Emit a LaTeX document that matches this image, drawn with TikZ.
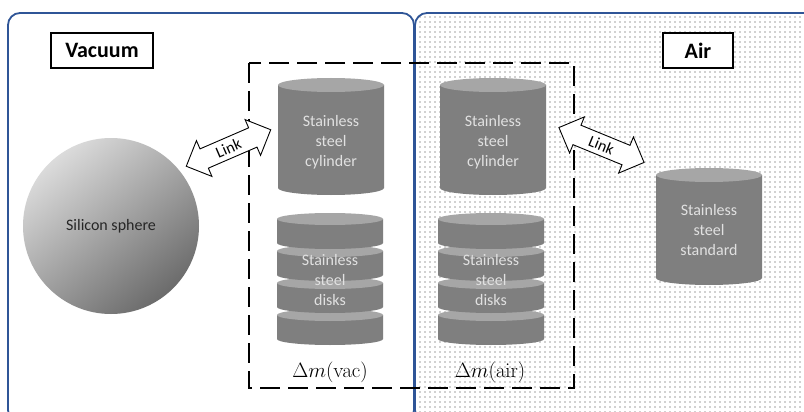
\documentclass[tikz,border=0pt]{standalone}
\usepackage[no-math]{fontspec}
\setmainfont{Carlito}
\usetikzlibrary{shapes.arrows,patterns.meta}

\definecolor{frameblue}{RGB}{47,85,151}
\definecolor{steelbody}{RGB}{127,127,127}
\definecolor{steeltop}{RGB}{166,166,166}
\definecolor{steeltext}{RGB}{225,225,225}
\definecolor{dotgray}{RGB}{60,60,60}

% cylinder: centre x, top-ellipse centre y, bottom-ellipse centre y, x radius, y radius
\newcommand{\steelcyl}[5]{%
  \fill[steelbody] (#1-#4,#2) -- (#1-#4,#3)
    arc[start angle=180,end angle=360,x radius=#4,y radius=#5]
    -- (#1+#4,#2) -- cycle;
  \fill[steeltop] (#1,#2) ellipse[x radius=#4,y radius=#5];
}
% stack of four disks, drawn from the bottom one upwards
\newcommand{\diskstack}[1]{%
  \foreach \cy in {-315,-283,-251,-219}{\steelcyl{#1}{\cy}{\cy-24}{53}{6}}%
}

\tikzset{
  region/.style={draw=frameblue,line width=1.8pt,rounded corners=12pt},
  tag/.style={draw=black,line width=1.2pt,fill=white,minimum height=35pt,
    inner sep=0pt,font=\fontsize{22}{26}\selectfont\bfseries},
  steellabel/.style={text=steeltext,align=center,
    font=\fontsize{16}{20}\selectfont},
  linkarrow/.style={double arrow,draw=black,line width=0.9pt,fill=white,
    minimum height=92pt,inner xsep=1pt,inner ysep=4.5pt,
    double arrow head extend=9pt,font=\fontsize{16}{19}\selectfont},
  masslabel/.style={font=\fontsize{20.5}{24}\selectfont},
  groupbox/.style={draw=black,line width=2.4pt,dash pattern=on 20pt off 8pt}
}

\begin{document}
\begin{tikzpicture}[x=1pt,y=1pt]
\useasboundingbox (0,0) rectangle (804,-412);
\fill[white] (0,0) rectangle (804,-412);

% vacuum and air regions
\draw[region,fill=white] (8,-13) rectangle (414,-422);
\fill[white,rounded corners=12pt] (415,-13) rectangle (830,-422);
\fill[pattern={Dots[distance=5pt,radius=0.6pt]},pattern color=dotgray,
  rounded corners=12pt] (415,-13) rectangle (830,-422);
\draw[region] (415,-13) rectangle (830,-422);

% region labels
\node[tag,minimum width=102pt] (vac) at (102,-50.5) {Vacuum};
\node[tag,minimum width=70pt] (air) at (698,-50.5) {Air};

% silicon sphere
\node[circle,minimum size=176pt,inner sep=0pt,shading=axis,
  top color=black!14,middle color=black!45,bottom color=black!58,
  shading angle=40,text=black!85,font=\fontsize{16}{20}\selectfont]
  (sphere) at (111,-226) {Silicon sphere};

% stainless steel cylinders
\steelcyl{331}{-85}{-188}{53}{7}
\node[steellabel] (cylvac) at (331,-142) {Stainless\\steel\\cylinder};
\steelcyl{493}{-85}{-188}{53}{7}
\node[steellabel] (cylair) at (493,-142) {Stainless\\steel\\cylinder};

% stainless steel disks
\diskstack{330}
\node[steellabel] (diskvac) at (330,-280) {Stainless\\steel\\disks};
\diskstack{491}
\node[steellabel] (diskair) at (491,-280) {Stainless\\steel\\disks};

% stainless steel standard
\steelcyl{709}{-175}{-278}{53}{7}
\node[steellabel] (standard) at (709,-230) {Stainless\\steel\\standard};

% group of artefacts weighed in vacuum and in air
\draw[groupbox] (249,-63) rectangle (574,-388);
\node[masslabel] (dmvac) at (330,-372) {$\Delta m(\mathrm{vac})$};
\node[masslabel] (dmair) at (490,-372) {$\Delta m(\mathrm{air})$};

% links
\node[linkarrow,rotate=23.4] (linkvac) at (228.5,-148) {Link};
\node[linkarrow,rotate=-22.3] (linkair) at (601.5,-145) {Link};
\end{tikzpicture}
\end{document}
